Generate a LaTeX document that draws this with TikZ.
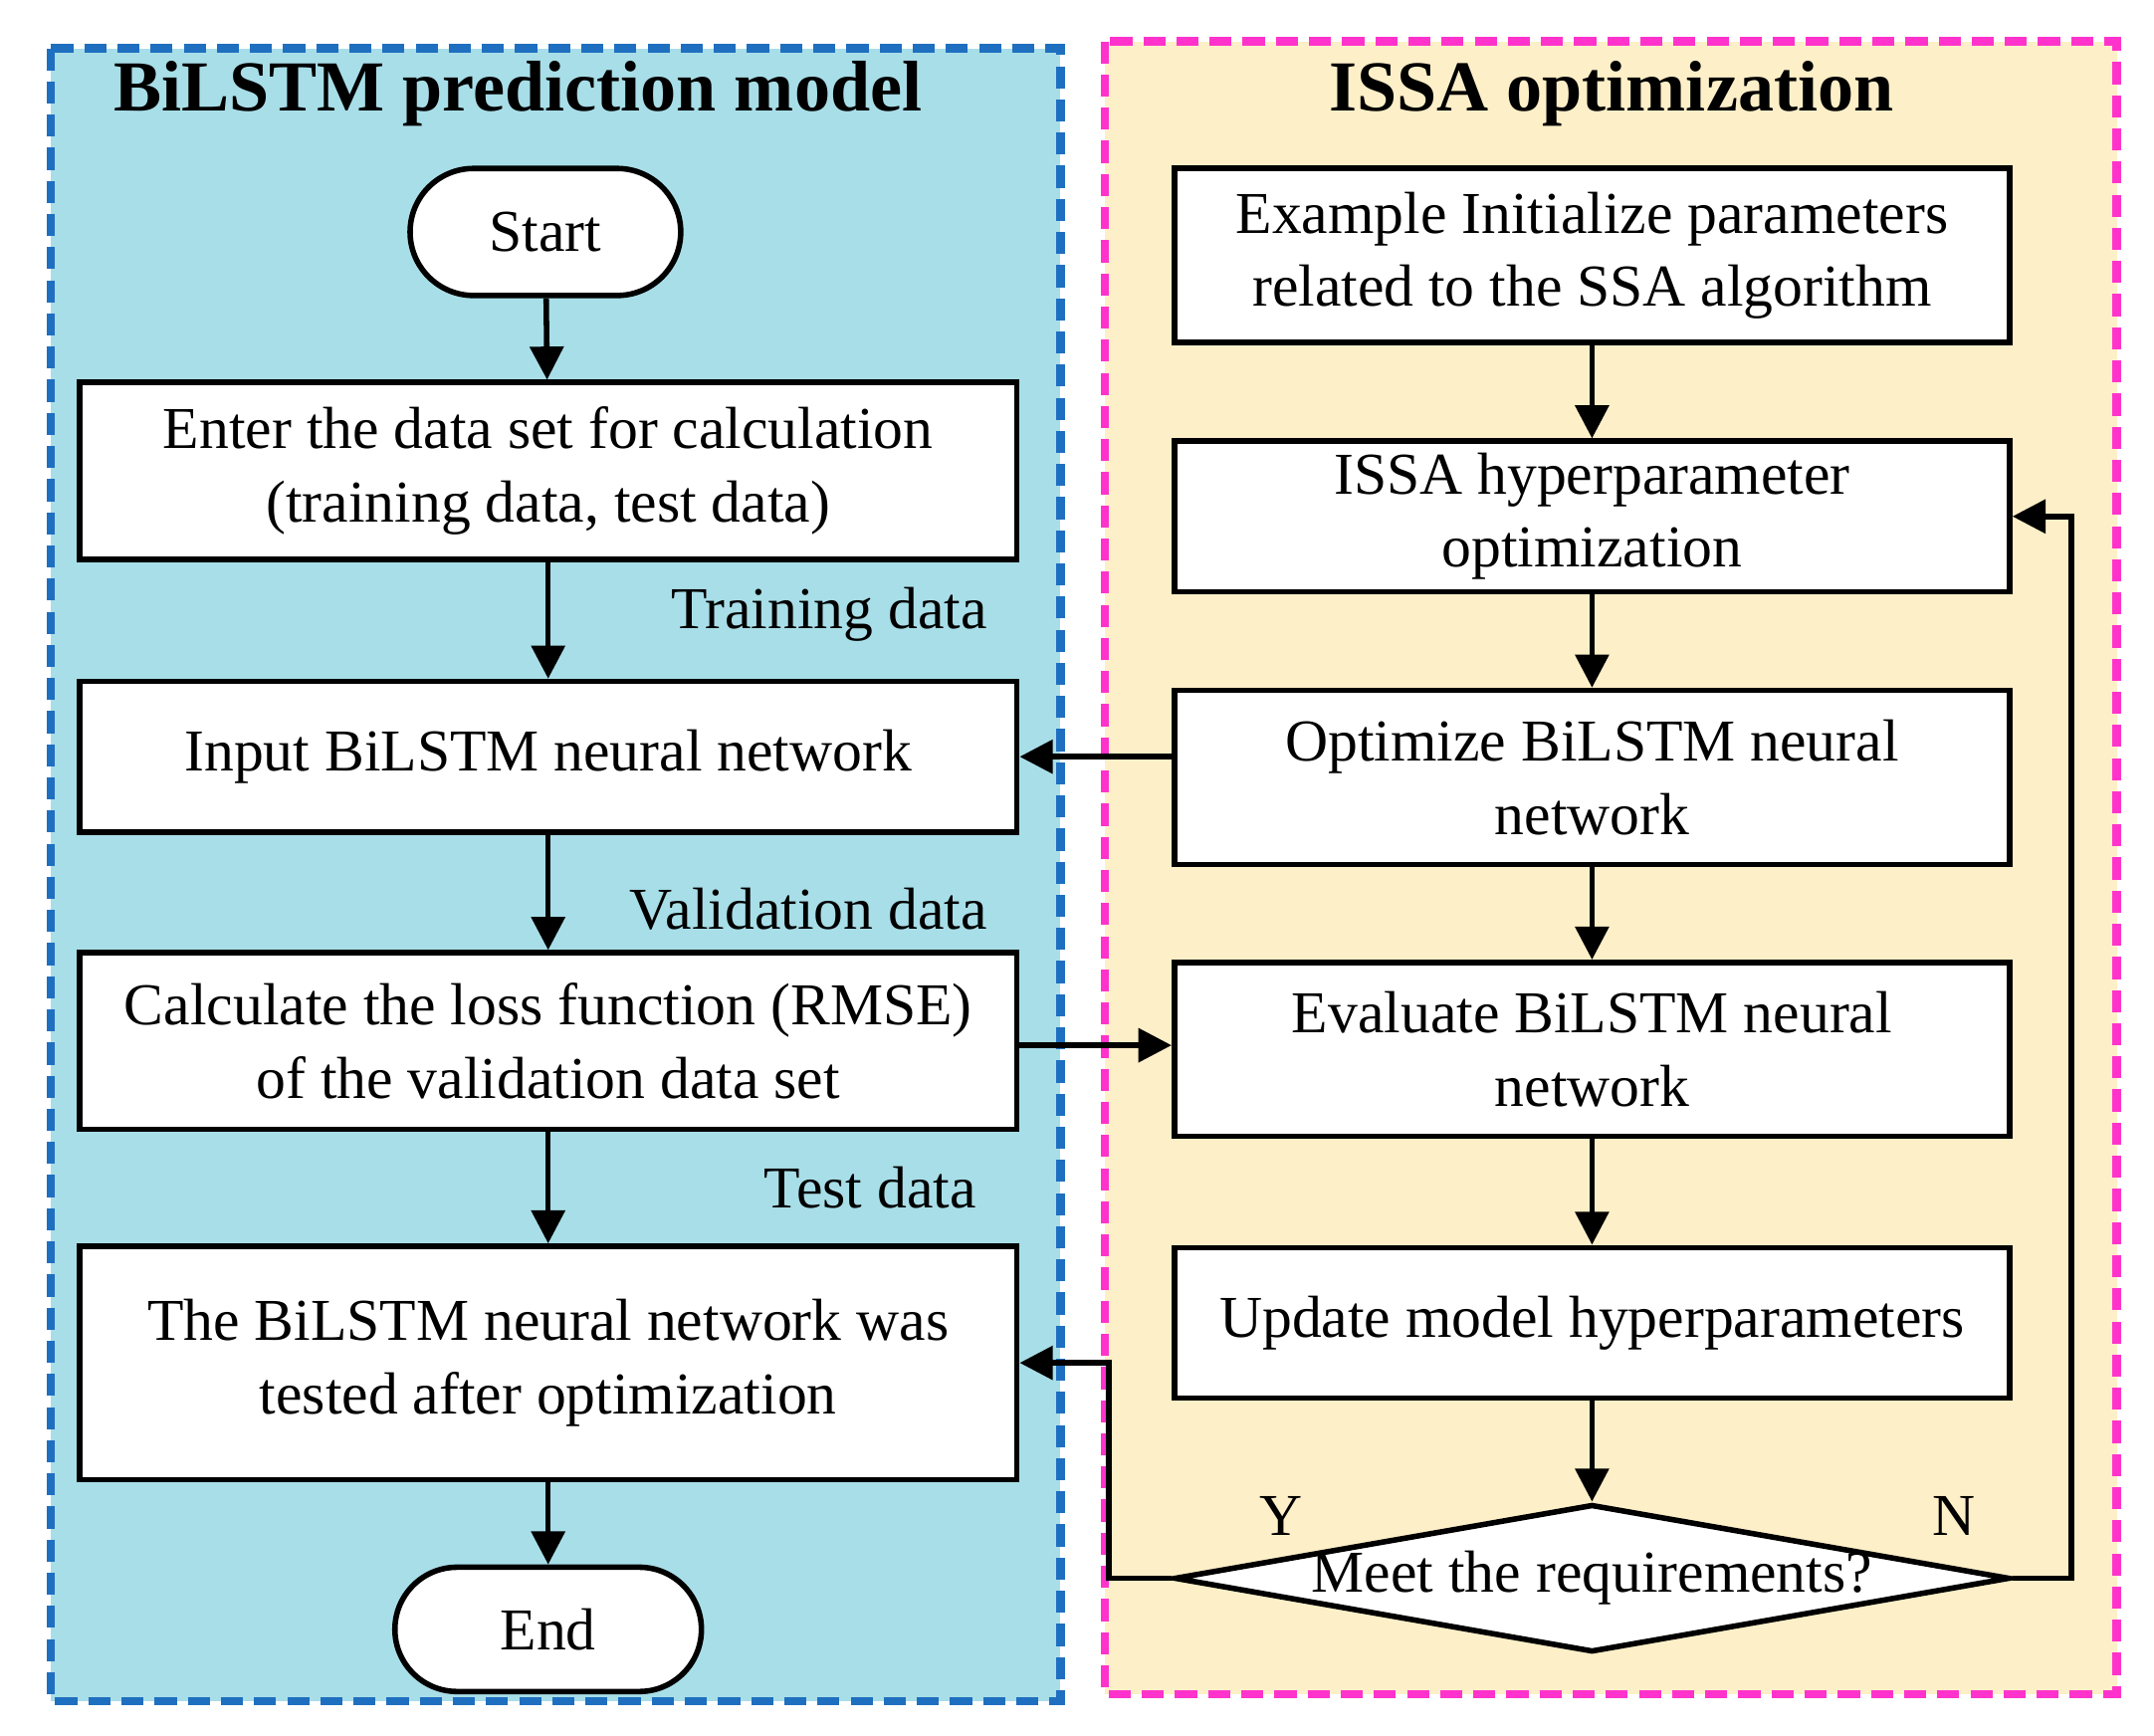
\documentclass[tikz,border=0pt]{standalone}
\usepackage{fontspec}
\setmainfont{Liberation Serif}
\usetikzlibrary{shapes.geometric,arrows.meta}
\definecolor{lb}{HTML}{A8DEE8}
\definecolor{bb}{HTML}{1F6FC0}
\definecolor{ly}{HTML}{FDEFC8}
\definecolor{mg}{HTML}{FF33CC}
\begin{document}
\begin{tikzpicture}[x=0.5pt,y=-0.5pt,
  box/.style={draw,line width=2pt,fill=white,align=center,font=\fontsize{21.5}{26.5}\selectfont,inner sep=0pt},
  lb/.style={box,minimum width=339.5pt},
  rb/.style={box,minimum width=302.5pt},
  st/.style={box,rounded corners=23pt},
  ar/.style={line width=2pt,-{Triangle[length=12pt,width=12pt]}},
  lab/.style={font=\fontsize{21.5}{26.5}\selectfont,anchor=east},
  ttl/.style={font=\fontsize{26}{30}\selectfont\bfseries}]
\fill[white] (0,0) rectangle (1560,1257);
\draw[fill=lb,draw=bb,line width=3pt,dash pattern=on 8pt off 4pt] (37,35) rectangle (768,1232);
\draw[fill=ly,draw=mg,line width=3pt,dash pattern=on 8pt off 4pt] (800,30) rectangle (1533,1227);
\useasboundingbox (0,0) rectangle (1560,1257);
\node[ttl] (t1) at (375,68) {BiLSTM prediction model};
\node[ttl] (t2) at (1167,68) {ISSA optimization};
\node[st,minimum width=98pt,minimum height=46pt] (start) at (395,168) {Start};
\node[lb,minimum height=64pt] (b1) at (397,341) {Enter the data set for calculation\\(training data, test data)};
\node[lb,minimum height=54.5pt] (b2) at (397,548) {Input BiLSTM neural network};
\node[lb,minimum height=64pt] (b3) at (397,754) {Calculate the loss function (RMSE)\\of the validation data set};
\node[lb,minimum height=84.5pt] (b4) at (397,987) {The BiLSTM neural network was\\tested after optimization};
\node[st,minimum width=111pt,minimum height=45pt,rounded corners=22.5pt] (end) at (397,1180) {End};
\node[lab] (l1) at (722,445) {Training data};
\node[lab] (l2) at (722,658) {Validation data};
\node[lab] (l3) at (714,860) {Test data};
\node[rb,minimum height=63pt] (r1) at (1153,185) {Example Initialize parameters\\related to the SSA algorithm};
\node[rb,minimum height=54.5pt] (r2) at (1153,374) {ISSA hyperparameter\\optimization};
\node[rb,minimum height=63pt] (r3) at (1153,563) {Optimize BiLSTM neural\\network};
\node[rb,minimum height=63pt] (r4) at (1153,760) {Evaluate BiLSTM neural\\network};
\node[rb,minimum height=54.5pt] (r5) at (1153,958) {Update model hyperparameters};
\node[diamond,draw,line width=2pt,fill=white,inner sep=0pt,minimum width=302.5pt,minimum height=53.5pt] (d) at (1153,1143) {};
\node[font=\fontsize{21.5}{26.5}\selectfont] (dt) at (1153,1143) {Meet the requirements?};
\node[font=\fontsize{21.5}{26.5}\selectfont] (y) at (928,1098) {Y};
\node[font=\fontsize{21.5}{26.5}\selectfont] (n) at (1415,1098) {N};
\coordinate (c1) at (803,1143); \coordinate (c2) at (803,987);
\coordinate (c3) at (1500,1143); \coordinate (c4) at (1500,374);
\draw[ar] (start) -- (b1);
\draw[ar] (b1) -- (b2);
\draw[ar] (b2) -- (b3);
\draw[ar] (b3) -- (b4);
\draw[ar] (b4) -- (end);
\draw[ar] (r1) -- (r2);
\draw[ar] (r2) -- (r3);
\draw[ar] (r3) -- (r4);
\draw[ar] (r4) -- (r5);
\draw[ar] (r5) -- (d);
\draw[ar] (r3.west |- b2.east) -- (b2.east);
\draw[ar] (b3.east |- 0,757) -- (r4.west |- 0,757);
\draw[ar] (d.west) -- (c1) -- (c2) -- (b4.east);
\draw[ar] (d.east) -- (c3) -- (c4) -- (r2.east);
\end{tikzpicture}
\end{document}
